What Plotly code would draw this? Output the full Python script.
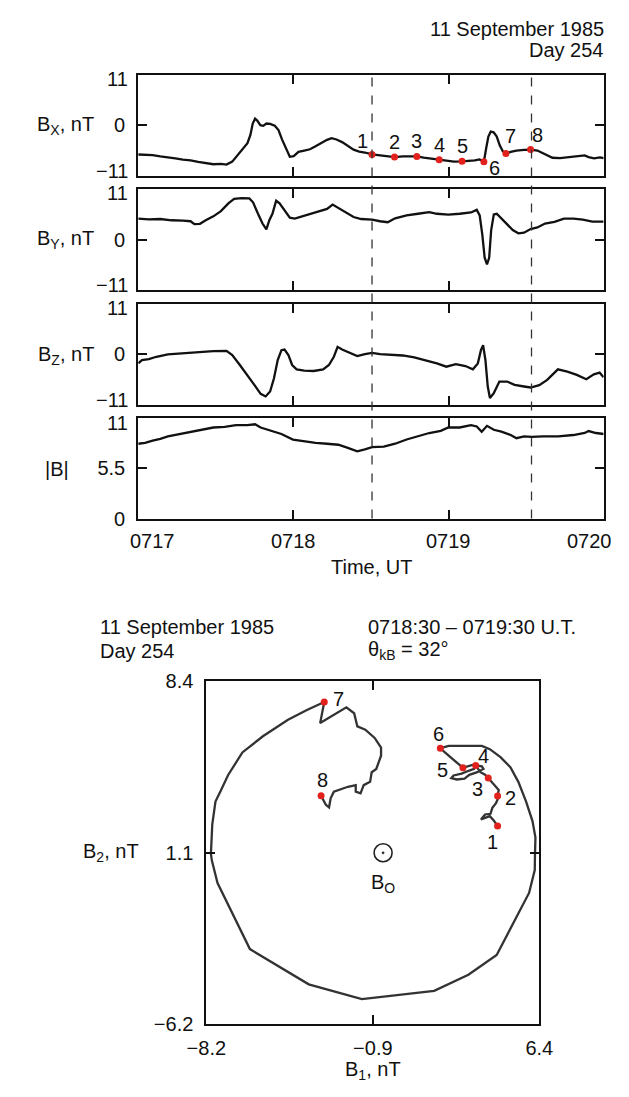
import plotly.graph_objects as go

# ---------------- data: time series (minutes after 0717 UT) ----------------
bx_t = [0.000, 0.044, 0.093, 0.142, 0.191, 0.239, 0.288, 0.337, 0.386, 0.435, 0.484, 0.533, 0.569,
        0.606, 0.643, 0.679, 0.704, 0.723, 0.738, 0.753, 0.767, 0.787, 0.806, 0.826, 0.850, 0.880,
        0.904, 0.928, 0.953, 0.977, 1.002, 1.033, 1.070, 1.107, 1.143, 1.180, 1.217, 1.246, 1.278,
        1.314, 1.351, 1.388, 1.424, 1.461, 1.507, 1.559, 1.608, 1.652, 1.705, 1.754, 1.796, 1.840,
        1.889, 1.940, 1.986, 2.035, 2.087, 2.133, 2.170, 2.199, 2.228, 2.243, 2.257, 2.272, 2.291,
        2.311, 2.330, 2.350, 2.370, 2.401, 2.438, 2.487, 2.529, 2.573, 2.622, 2.670, 2.719, 2.780,
        2.829, 2.878, 2.903, 2.939, 2.976, 3.000]
bx_v = [-6.39, -6.46, -6.53, -6.82, -6.96, -7.24, -7.53, -7.67, -8.02, -8.24, -8.52, -8.45, -8.59,
        -7.95, -6.39, -4.83, -3.91, -2.13, 0.36, 1.42, 0.99, 0.00, -0.14, 0.36, 0.28, -0.14,
        -1.07, -3.20, -4.97, -6.89, -6.75, -5.82, -5.54, -5.25, -4.62, -3.91, -3.20, -2.84, -3.12,
        -3.69, -4.54, -5.33, -5.75, -5.96, -6.39, -6.60, -6.82, -6.96, -6.82, -6.75, -6.82, -7.10,
        -7.31, -7.53, -7.74, -7.95, -7.88, -7.81, -7.67, -7.46, -7.95, -4.97, -2.49, -1.42, -1.56,
        -2.49, -4.40, -5.68, -6.18, -5.82, -5.54, -5.40, -5.33, -5.54, -6.39, -7.10, -7.17, -6.89,
        -6.75, -6.60, -6.96, -7.24, -7.03, -7.17]

by_t = [0.000, 0.068, 0.142, 0.215, 0.288, 0.337, 0.362, 0.398, 0.435, 0.484, 0.533, 0.581, 0.618,
        0.667, 0.716, 0.740, 0.772, 0.801, 0.826, 0.845, 0.865, 0.889, 0.911, 0.943, 0.977, 1.009,
        1.058, 1.107, 1.168, 1.217, 1.253, 1.290, 1.339, 1.388, 1.437, 1.507, 1.559, 1.608, 1.656,
        1.730, 1.803, 1.876, 1.925, 1.999, 2.072, 2.145, 2.182, 2.201, 2.218, 2.233, 2.248, 2.262,
        2.275, 2.292, 2.311, 2.341, 2.377, 2.414, 2.450, 2.487, 2.529, 2.573, 2.622, 2.683, 2.744,
        2.805, 2.866, 2.927, 3.000]
by_v = [4.62, 4.47, 4.54, 4.26, 4.19, 4.05, 3.41, 3.48, 4.26, 5.11, 6.25, 7.95, 8.95,
        9.09, 9.02, 8.17, 5.68, 3.55, 2.27, 4.26, 5.68, 8.52, 7.95, 6.39, 4.83, 4.62,
        5.11, 5.54, 6.25, 6.75, 7.67, 6.96, 5.96, 4.97, 4.54, 4.40, 4.05, 3.83, 4.69,
        5.33, 5.68, 6.04, 5.68, 5.47, 5.68, 5.96, 6.53, 5.33, 1.07, -3.91, -5.33, -3.91,
        2.13, 5.54, 5.68, 4.62, 3.34, 2.13, 1.42, 1.56, 2.34, 2.70, 3.55, 3.91, 4.62,
        4.62, 4.40, 3.98, 3.98]

bz_t = [0.000, 0.024, 0.068, 0.117, 0.191, 0.264, 0.337, 0.410, 0.484, 0.569, 0.606, 0.655, 0.704,
        0.753, 0.789, 0.821, 0.850, 0.875, 0.899, 0.923, 0.943, 0.968, 0.992, 1.021, 1.070, 1.131,
        1.192, 1.229, 1.261, 1.285, 1.314, 1.363, 1.412, 1.461, 1.507, 1.559, 1.632, 1.705, 1.779,
        1.852, 1.925, 1.986, 2.047, 2.109, 2.157, 2.189, 2.209, 2.223, 2.238, 2.253, 2.267, 2.292,
        2.328, 2.377, 2.426, 2.487, 2.529, 2.585, 2.636, 2.705, 2.766, 2.827, 2.888, 2.937, 2.974,
        3.000]
bz_v = [-1.94, -1.22, -1.01, -0.50, 0.00, 0.22, 0.43, 0.58, 0.72, 0.79, -0.14, -2.30, -4.46,
        -6.84, -8.57, -9.14, -8.06, -5.18, -1.22, 0.94, 1.08, -0.14, -2.30, -3.24, -3.53, -3.60,
        -3.24, -2.30, -0.50, 1.66, 1.08, 0.36, -0.36, 0.07, 0.36, 0.07, -0.14, -0.22, -0.65,
        -1.22, -1.94, -2.66, -2.09, -2.52, -3.24, -1.94, 0.94, 2.02, -1.22, -6.98, -9.50, -8.42,
        -5.90, -5.90, -6.62, -6.98, -7.20, -6.70, -5.54, -3.24, -3.74, -4.46, -5.40, -4.32, -3.96,
        -4.97]

bm_t = [0.000, 0.044, 0.093, 0.142, 0.191, 0.264, 0.337, 0.410, 0.484, 0.557, 0.630, 0.704, 0.753,
        0.789, 0.850, 0.923, 0.997, 1.070, 1.143, 1.217, 1.290, 1.351, 1.412, 1.461, 1.507, 1.583,
        1.656, 1.730, 1.803, 1.876, 1.950, 1.999, 2.072, 2.145, 2.182, 2.214, 2.248, 2.292, 2.341,
        2.401, 2.438, 2.487, 2.536, 2.609, 2.707, 2.805, 2.878, 2.903, 2.951, 3.000]
bm_v = [8.16, 8.26, 8.51, 8.69, 8.97, 9.22, 9.47, 9.68, 9.93, 10.00, 10.18, 10.18, 10.28,
        9.93, 9.57, 9.22, 8.62, 8.40, 8.26, 8.16, 8.05, 7.70, 7.34, 7.55, 7.80, 7.84,
        8.16, 8.62, 8.97, 9.33, 9.57, 9.93, 9.93, 10.18, 10.04, 9.47, 10.11, 9.68, 9.47,
        9.11, 8.76, 8.97, 8.90, 8.97, 8.97, 9.11, 9.33, 9.54, 9.33, 9.22]

# numbered sample points on Bx
pt_labels = ["1", "2", "3", "4", "5", "6", "7", "8"]
pt_t = [1.507, 1.652, 1.796, 1.940, 2.087, 2.228, 2.370, 2.529]
pt_bx = [-6.39, -6.96, -6.82, -7.53, -7.88, -7.95, -6.18, -5.33]
window_t = [1.507, 2.535]

time_ticks = [0, 1, 2, 3]
time_ticktext = ["0717", "0718", "0719", "0720"]

# ---------------- data: hodogram (B1, B2 in nT) ----------------
hodo_b1 = [4.57, 4.40, 4.23, 3.84, 4.02, 4.26, 4.34, 4.50, 4.59, 4.57, 4.62, 4.44, 4.30, 4.16,
           4.02, 3.82, 3.61, 3.54, 3.33, 2.99, 2.64, 2.54, 2.78, 3.12, 3.33, 3.68, 3.95, 3.88,
           3.47, 3.05, 2.85, 2.68, 2.43, 2.26, 2.06,
           2.43, 3.88, 4.23, 4.71, 5.13, 5.48, 5.82, 6.10, 6.23, 6.21, 6.20, 5.95, 5.28, 4.53,
           3.29, 1.79, -1.38, -3.71, -6.29, -7.71, -7.96, -8.00, -7.94, -7.80, -7.59, -7.25,
           -6.62, -5.72, -4.62, -3.79, -3.03,
           -3.21, -2.06, -1.72, -1.58, -1.23, -0.82, -0.54, -0.54, -0.75, -0.95, -1.02, -1.30,
           -1.44, -1.65, -1.65, -1.99, -2.41, -2.61, -2.75, -2.82, -2.96, -3.17]
hodo_b2 = [2.24, 2.48, 2.66, 2.52, 2.73, 2.76, 3.01, 3.21, 3.42, 3.52, 3.77, 3.98, 4.12, 4.28,
           4.42, 4.53, 4.81, 4.67, 4.60, 4.47, 4.39, 4.28, 4.22, 4.26, 4.42, 4.53, 4.67, 4.78,
           4.84, 4.72, 4.88, 5.02, 5.20, 5.37, 5.55,
           5.65, 5.65, 5.51, 5.16, 4.74, 4.12, 3.28, 2.45, 1.75, 1.06, 0.36, -0.61, -1.86, -3.25,
           -4.09, -4.78, -5.13, -4.50, -3.00, -0.19, 0.78, 1.06, 2.31, 3.28, 3.70, 4.40,
           5.37, 6.06, 6.76, 7.18, 7.52,
           6.62, 7.29, 7.04, 6.48, 6.34, 5.99, 5.58, 5.23, 4.67, 4.53, 4.12, 3.98,
           3.63, 3.70, 3.98, 3.91, 3.77, 3.70, 3.42, 3.03, 3.14, 3.53]
hp_b1 = [4.57, 4.57, 4.16, 3.61, 3.05, 2.06, -3.03, -3.17]
hp_b2 = [2.24, 3.52, 4.28, 4.81, 4.72, 5.55, 7.52, 3.53]
b0_b1 = [-0.45]
b0_b2 = [1.10]

b1_ticks = [-8.2, -0.9, 6.4]
b2_ticks = [-6.2, 1.1, 8.4]

# ---------------- styles / layout ----------------
FONT = "Liberation Sans, Arial, Helvetica, sans-serif"
FS = 20
INK = "#111111"
RED = "#e3211c"
W, H = 629, 1097

top_x = [125 / W, 617 / W]
panel_px = [(65, 168), (182, 285), (299, 402), (415, 518)]
doms = [[1 - b / H, 1 - t / H] for t, b in panel_px]

fig = go.Figure()
series = [(bx_t, bx_v), (by_t, by_v), (bz_t, bz_v), (bm_t, bm_v)]
for i, (t, v) in enumerate(series):
    n = "" if i == 0 else str(i + 1)
    fig.add_trace(go.Scatter(x=t, y=v, mode="lines", line=dict(color=INK, width=2.3),
                             xaxis="x" + n, yaxis="y" + n, showlegend=False, hoverinfo="skip"))

fig.add_trace(go.Scatter(x=pt_t, y=pt_bx, mode="markers", marker=dict(color=RED, size=7),
                         xaxis="x", yaxis="y", showlegend=False))

fig.add_trace(go.Scatter(x=hodo_b1, y=hodo_b2, mode="lines", line=dict(color="#333333", width=2.3),
                         xaxis="x5", yaxis="y5", showlegend=False))
fig.add_trace(go.Scatter(x=hp_b1, y=hp_b2, mode="markers", marker=dict(color=RED, size=7),
                         xaxis="x5", yaxis="y5", showlegend=False))
fig.add_trace(go.Scatter(x=b0_b1, y=b0_b2, mode="markers",
                         marker=dict(symbol="circle-open-dot", size=18, color="#222",
                                     line=dict(width=1.6, color="#222")),
                         xaxis="x5", yaxis="y5", showlegend=False))

axis_common = dict(showline=True, linecolor=INK, linewidth=2, mirror="ticks", ticks="inside",
                   ticklen=9, tickwidth=1.5, tickcolor=INK, showgrid=False, zeroline=False,
                   tickfont=dict(family=FONT, size=FS, color=INK))

layout = dict(width=W, height=H, margin=dict(l=0, r=0, t=0, b=0),
              paper_bgcolor="white", plot_bgcolor="white",
              font=dict(family=FONT, size=FS, color=INK))

yranges = [[-11, 11], [-11, 11], [-11, 11], [0, 11]]
# inner tick labels come from the axes; the edge labels (±11) are drawn as
# annotations nudged inward, like in the original
yticks = [[0], [0], [0], [0, 5.5]]
ytext_axis = [["0"], ["0"], ["0"], ["0", "5.5"]]
for i in range(4):
    n = "" if i == 0 else str(i + 1)
    layout["xaxis" + n] = dict(axis_common, domain=top_x, range=[0, 3], anchor="y" + n,
                               tickvals=time_ticks[1:3], showticklabels=False)
    layout["yaxis" + n] = dict(axis_common, domain=doms[i], range=yranges[i], anchor="x" + n,
                               tickvals=yticks[i], ticktext=ytext_axis[i], ticklabelstandoff=7)

layout["xaxis5"] = dict(axis_common, domain=[197 / W, 549 / W], range=[-8.2, 6.4], anchor="y5",
                        tickvals=b1_ticks, ticktext=["\u22128.2", "\u22120.9", "6.4"],
                        ticklabelstandoff=5)
layout["yaxis5"] = dict(axis_common, domain=[1 - 1034 / H, 1 - 684 / H], range=[-6.2, 8.4],
                        anchor="x5", tickvals=b2_ticks, ticktext=["\u22126.2", "1.1", "8.4"],
                        ticklabelstandoff=7)
fig.update_layout(**layout)

# dashed window lines across all four panels
for tx in window_t:
    fig.add_shape(type="line", xref="x", yref="paper", x0=tx, x1=tx,
                  y0=doms[3][0], y1=doms[0][1], line=dict(color="#333", width=1.3, dash="dash"))

ann = []
def txt(x, y, s, xa="center", ya="middle", xref="paper", yref="paper", size=FS, **kw):
    ann.append(dict(x=x, y=y, text=s, xref=xref, yref=yref, xanchor=xa, yanchor=ya,
                    showarrow=False, font=dict(family=FONT, size=size, color=INK), **kw))

# edge tick labels for the time-series panels
edge_labels = [[(11, "11", -4), (-11, "\u221211", 5)]] * 3 + [[(11, "11", -5)]]
for i, labs in enumerate(edge_labels):
    n = "" if i == 0 else str(i + 1)
    for v, s, sh in labs:
        txt(0, v, s, xa="right", xref="x" + n + " domain", yref="y" + n, xshift=-8, yshift=sh)

# titles
txt(619 / W, 1 - 18 / H, "11 September 1985", xa="right")
txt(619 / W, 1 - 40 / H, "Day 254", xa="right")
# panel labels
ylabels = ["B<sub>X</sub>, nT", "B<sub>Y</sub>, nT", "B<sub>Z</sub>, nT", "|B|"]
ylab_y = [117, 233, 352, 467]
for s, yy in zip(ylabels, ylab_y):
    txt(80 / W if s != "|B|" else 54 / W, 1 - yy / H, s, xa="right")
# bottom time tick labels
tshift = [14, 0, 0, -14]
for v, s, sh in zip(time_ticks, time_ticktext, tshift):
    txt(v, doms[3][0], s, xref="x4", ya="top", xshift=sh, yshift=-9)
txt(372 / W, 1 - 567 / H, "Time, UT")

# numbered points on Bx
bx_off = [(-10, 13), (0, 15), (0, 15), (0, 15), (0, 15), (11, -6), (5, 18), (7, 15)]
for s, x, y, (dx, dy) in zip(pt_labels, pt_t, pt_bx, bx_off):
    txt(x, y, s, xref="x", yref="y", xshift=dx, yshift=dy)

# hodogram titles
txt(82 / W, 1 - 629 / H, "11 September 1985", xa="left")
txt(82 / W, 1 - 653 / H, "Day 254", xa="left")
txt(366 / W, 1 - 629 / H, "0718:30 \u2013 0719:30 U.T.", xa="left")
txt(366 / W, 1 - 653 / H, "\u03b8<sub>kB</sub> = 32\u00b0", xa="left")
txt(128 / W, 1 - 859 / H, "B<sub>2</sub>, nT", xa="right")
txt(373 / W, 0, "B<sub>1</sub>, nT", ya="bottom", yshift=1)

hodo_off = [(-5, -16), (13, -2), (-11, -11), (8, 10), (-20, -2), (-2, 14), (14, 3), (1, 16)]
for s, x, y, (dx, dy) in zip(pt_labels, hp_b1, hp_b2, hodo_off):
    txt(x, y, s, xref="x5", yref="y5", xshift=dx, yshift=dy)
txt(b0_b1[0], b0_b2[0], "B<sub>O</sub>", xref="x5", yref="y5", yshift=-31)

fig.update_layout(annotations=ann)
fig.write_html("out.html")
